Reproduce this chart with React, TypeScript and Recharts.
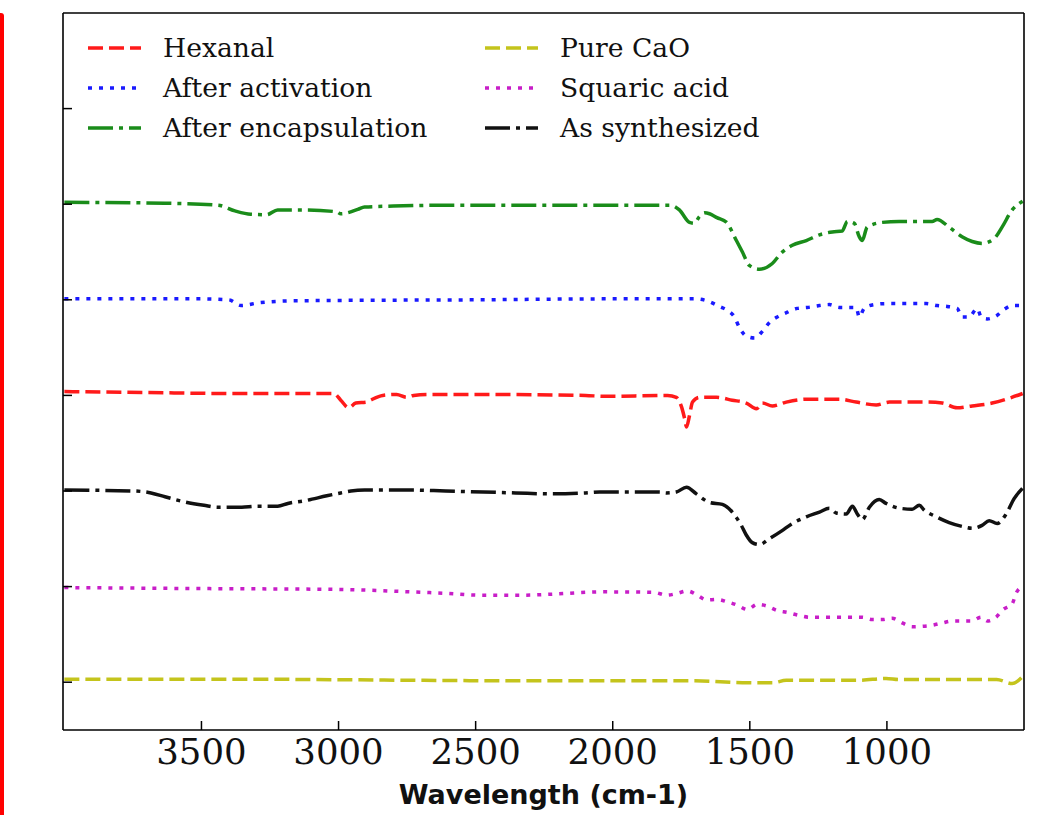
import React from 'react';
import { LineChart, Line, XAxis, YAxis, Legend } from 'recharts';

// wavenumber ticks (axis runs high -> low) and stacked-offset ticks
const xTicks = [3500, 3000, 2500, 2000, 1500, 1000];
const yTicks = [0, 1, 2, 3, 4, 5, 6];

// [wavenumber, offset transmittance]
const hexanal: [number, number][] = [
  [4000, 3.04], [3700, 3.03], [3400, 3.02], [3120, 3.02], [3017, 3.02], [2992, 2.95], [2963, 2.87],
  [2937, 2.92], [2897, 2.93], [2883, 2.95], [2839, 3.0], [2788, 3.01], [2752, 2.98], [2726, 3.0],
  [2675, 3.01], [2500, 3.01], [2099, 3.0], [2034, 2.99], [1800, 3.0], [1768, 2.98], [1749, 2.88],
  [1738, 2.76], [1731, 2.67], [1720, 2.79], [1709, 2.93], [1684, 2.98], [1622, 2.98], [1564, 2.95],
  [1513, 2.92], [1476, 2.86], [1454, 2.92], [1418, 2.89], [1367, 2.93], [1294, 2.96], [1174, 2.96],
  [1112, 2.93], [1039, 2.9], [991, 2.93], [857, 2.93], [798, 2.92], [744, 2.87], [689, 2.89],
  [616, 2.92], [554, 2.97], [505, 3.02],
];

const activation: [number, number][] = [
  [4000, 4.01], [3500, 4.01], [3400, 4.0], [3356, 3.94], [3287, 3.97], [3150, 3.99], [2500, 4.0],
  [2000, 4.01], [1700, 4.01], [1647, 3.98], [1611, 3.93], [1582, 3.89], [1556, 3.82], [1538, 3.71],
  [1513, 3.62], [1483, 3.6], [1454, 3.67], [1429, 3.76], [1400, 3.82], [1363, 3.87], [1327, 3.91],
  [1290, 3.92], [1246, 3.94], [1210, 3.95], [1174, 3.92], [1148, 3.92], [1112, 3.92], [1101, 3.82],
  [1083, 3.91], [1046, 3.95], [1003, 3.96], [857, 3.96], [817, 3.94], [780, 3.93], [744, 3.91],
  [726, 3.82], [700, 3.82], [671, 3.91], [656, 3.82], [634, 3.8], [602, 3.83], [572, 3.9],
  [543, 3.94], [505, 3.94],
];

const encapsulation: [number, number][] = [
  [4000, 5.02], [3633, 5.01], [3440, 4.99], [3378, 4.93], [3320, 4.895], [3262, 4.89], [3222, 4.94],
  [3120, 4.94], [3006, 4.92], [2992, 4.9], [2930, 4.945], [2905, 4.97], [2800, 4.98], [2595, 4.99],
  [2230, 4.99], [1866, 4.99], [1790, 4.99], [1757, 4.94], [1720, 4.81], [1702, 4.8], [1684, 4.87],
  [1665, 4.91], [1647, 4.9], [1620, 4.86], [1585, 4.81], [1549, 4.62], [1527, 4.5], [1502, 4.36],
  [1465, 4.32], [1418, 4.38], [1385, 4.49], [1345, 4.57], [1294, 4.62], [1246, 4.68], [1199, 4.71],
  [1163, 4.72], [1144, 4.82], [1119, 4.8], [1101, 4.66], [1090, 4.62], [1072, 4.76], [1017, 4.81],
  [955, 4.82], [835, 4.82], [817, 4.84], [773, 4.76], [726, 4.66], [689, 4.61], [653, 4.59],
  [609, 4.64], [580, 4.76], [543, 4.94], [505, 5.03],
];

const pureCaO: [number, number][] = [
  [4000, 0.03], [3247, 0.03], [2737, 0.02], [2354, 0.015], [2034, 0.015], [1700, 0.015],
  [1527, -0.005], [1418, -0.007], [1367, 0.02], [1100, 0.02], [1003, 0.04], [955, 0.028],
  [600, 0.028], [543, -0.014], [505, 0.06],
];

const squaric: [number, number][] = [
  [4000, 0.99], [3531, 0.98], [2992, 0.97], [2737, 0.945], [2609, 0.93], [2482, 0.91], [2329, 0.91],
  [2227, 0.92], [2034, 0.945], [1850, 0.94], [1804, 0.91], [1764, 0.93], [1728, 0.955], [1691, 0.91],
  [1658, 0.86], [1618, 0.865], [1582, 0.84], [1545, 0.805], [1509, 0.76], [1472, 0.815], [1436, 0.795],
  [1400, 0.75], [1363, 0.73], [1323, 0.7], [1283, 0.68], [1090, 0.68], [1053, 0.655], [1017, 0.655],
  [981, 0.67], [944, 0.62], [908, 0.58], [871, 0.585], [835, 0.596], [798, 0.62], [762, 0.64],
  [693, 0.64], [656, 0.68], [634, 0.64], [602, 0.68], [576, 0.76], [543, 0.82], [529, 0.93], [505, 1.0],
];

const synthesized: [number, number][] = [
  [4000, 2.01], [3746, 2.0], [3684, 1.98], [3633, 1.94], [3568, 1.89], [3491, 1.85], [3440, 1.83],
  [3353, 1.83], [3302, 1.84], [3222, 1.84], [3185, 1.87], [3120, 1.9], [3043, 1.95], [2992, 1.98],
  [2955, 2.0], [2905, 2.01], [2737, 2.01], [2609, 2.0], [2354, 1.98], [2227, 1.97], [2099, 1.98],
  [2048, 1.99], [1829, 1.99], [1804, 1.98], [1768, 1.99], [1731, 2.04], [1695, 1.97], [1647, 1.88],
  [1600, 1.86], [1564, 1.78], [1531, 1.64], [1513, 1.54], [1491, 1.46], [1465, 1.44], [1429, 1.5],
  [1385, 1.58], [1345, 1.66], [1294, 1.73], [1246, 1.78], [1210, 1.82], [1185, 1.77], [1148, 1.76],
  [1126, 1.84], [1108, 1.76], [1090, 1.7], [1064, 1.83], [1028, 1.91], [1003, 1.87], [955, 1.82],
  [908, 1.81], [882, 1.85], [864, 1.8], [820, 1.73], [773, 1.67], [726, 1.63], [689, 1.61],
  [653, 1.64], [627, 1.69], [598, 1.66], [565, 1.76], [536, 1.92], [505, 2.03],
];

const DASHED = '15 6';
const DOTTED = '4 7';
const DASHDOT = '25 6 4 6';

// legend order (column-major, 2 columns x 3 rows)
const SERIES = [
  { name: 'Hexanal', points: hexanal, color: '#ff1a1a', dash: DASHED },
  { name: 'After activation', points: activation, color: '#1a1aff', dash: DOTTED },
  { name: 'After encapsulation', points: encapsulation, color: '#1a8c1a', dash: DASHDOT },
  { name: 'Pure CaO', points: pureCaO, color: '#c4c41c', dash: DASHED },
  { name: 'Squaric acid', points: squaric, color: '#c81ec8', dash: DOTTED },
  { name: 'As synthesized', points: synthesized, color: '#111111', dash: DASHDOT },
];

const FRAME = { stroke: '#000', strokeWidth: 1.6 };

const toRows = (pts: [number, number][]) => pts.map(([wn, t]) => ({ wn, t }));

// ticks point inward, labels sit below the axis
function XTick({ x, y, payload }: any) {
  return (
    <g>
      <line x1={x} y1={y} x2={x} y2={y - 9} stroke="#000" strokeWidth={1.5} />
      <text x={x} y={y + 34} textAnchor="middle" fontFamily="'DejaVu Serif', serif" fontSize={35.5} fill="#111">
        {payload.value}
      </text>
    </g>
  );
}

function YTick({ x, y }: any) {
  return <line x1={x} y1={y} x2={x + 9} y2={y} stroke="#000" strokeWidth={1.5} />;
}

function LegendBox() {
  return (
    <div
      style={{
        display: 'grid',
        gridTemplateColumns: '397px auto',
        gridTemplateRows: 'repeat(3, 40px)',
        gridAutoFlow: 'column',
      }}
    >
      {SERIES.map((s) => (
        <div key={s.name} style={{ display: 'flex', alignItems: 'center' }}>
          <svg width={53} height={8} style={{ marginRight: 22 }}>
            <line x1={0} y1={4} x2={53} y2={4} stroke={s.color} strokeWidth={3.5} strokeDasharray={s.dash} />
          </svg>
          <span style={{ fontFamily: "'DejaVu Serif', serif", fontSize: 26.6, color: '#111', lineHeight: '40px', whiteSpace: 'nowrap' }}>
            {s.name}
          </span>
        </div>
      ))}
    </div>
  );
}

export default function App() {
  return (
    <>
      <div
        style={{
          position: 'absolute',
          left: 0,
          top: 13,
          width: 4,
          height: 802,
          background: '#ff0000',
          borderTopRightRadius: 3,
        }}
      />
      <LineChart width={1044} height={807} margin={{ top: 4, right: 27, bottom: 0, left: 54 }}>
        <XAxis
          dataKey="wn"
          type="number"
          domain={[500, 4005]}
          reversed
          allowDataOverflow
          ticks={xTicks}
          interval={0}
          height={85}
          tickSize={0}
          tickMargin={0}
          tickLine={false}
          tick={<XTick />}
          axisLine={FRAME}
          label={{
            value: 'Wavelength (cm-1)',
            position: 'insideBottom',
            offset: 11,
            fill: '#111',
            fontSize: 27,
            fontWeight: 'bold',
            fontFamily: "'DejaVu Sans', sans-serif",
          }}
        />
        <XAxis
          xAxisId="top"
          orientation="top"
          dataKey="wn"
          type="number"
          domain={[500, 4005]}
          reversed
          allowDataOverflow
          height={1}
          tick={false}
          tickLine={false}
          axisLine={FRAME}
        />
        <YAxis
          type="number"
          domain={[-0.5, 7]}
          allowDataOverflow
          ticks={yTicks}
          interval={0}
          width={1}
          tickSize={0}
          tickMargin={0}
          tickLine={false}
          tick={<YTick />}
          axisLine={FRAME}
        />
        <YAxis
          yAxisId="right"
          orientation="right"
          type="number"
          domain={[-0.5, 7]}
          allowDataOverflow
          width={1}
          tick={false}
          tickLine={false}
          axisLine={FRAME}
        />
        <Legend
          layout="vertical"
          align="center"
          verticalAlign="middle"
          content={<LegendBox />}
          wrapperStyle={{ left: 80, top: 20, width: 'auto', right: 'auto', bottom: 'auto' }}
        />
        {SERIES.map((s) => (
          <Line
            key={s.name}
            name={s.name}
            data={toRows(s.points)}
            dataKey="t"
            type="monotone"
            stroke={s.color}
            strokeWidth={3.5}
            strokeDasharray={s.dash}
            dot={false}
            activeDot={false}
            isAnimationActive={false}
          />
        ))}
      </LineChart>
    </>
  );
}
